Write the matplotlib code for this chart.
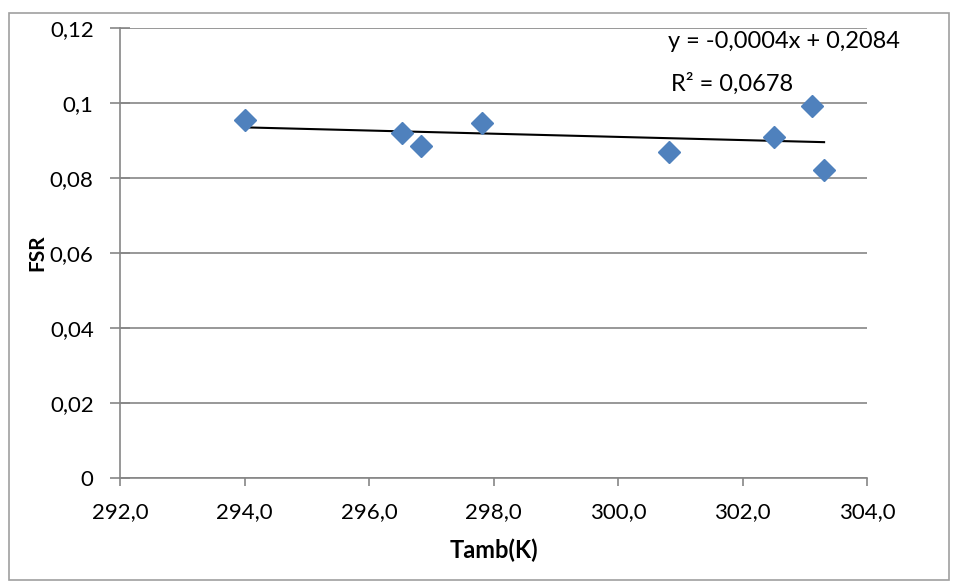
import numpy as np
import matplotlib
from matplotlib import pyplot as plt
from matplotlib.patches import Rectangle

# Data
tamb = [294.01, 296.53, 296.84, 297.82, 300.82, 302.51, 303.12, 303.31]
fsr = [0.0955, 0.0920, 0.0885, 0.0947, 0.0869, 0.0909, 0.0992, 0.0821]
x_ticks = [292, 294, 296, 298, 300, 302, 304]
y_ticks = [0, 0.02, 0.04, 0.06, 0.08, 0.10, 0.12]
y_tick_labels = ["0", "0,02", "0,04", "0,06", "0,08", "0,1", "0,12"]
eq_text = "y = -0,0004x + 0,2084"
r2_text = "R² = 0,0678"

matplotlib.rc("font", family=["Lato", "DejaVu Sans"], size=16)

fig = plt.figure(figsize=(9.55, 5.83), dpi=100)
ax = fig.add_axes([0.1257, 0.1801, 0.7822, 0.7719])

# outer chart border
fig.patches.append(Rectangle((0.009, 0.005), 0.985, 0.973, transform=fig.transFigure,
                             fill=False, edgecolor="#a0a0a0", linewidth=1.2))

gray = "#868686"
ax.set_xlim(292, 304)
ax.set_ylim(0, 0.12)
ax.set_xticks(x_ticks)
ax.set_xticklabels([f"{t:.1f}".replace(".", ",") for t in x_ticks])
ax.set_yticks(y_ticks)
ax.set_yticklabels(y_tick_labels)
ax.grid(axis="y", color=gray, linewidth=1.2)
ax.set_axisbelow(True)
for s in ["top", "right"]:
    ax.spines[s].set_visible(False)
for s in ["left", "bottom"]:
    ax.spines[s].set_color(gray)
    ax.spines[s].set_linewidth(1.2)
ax.tick_params(axis="y", direction="inout", length=14, color=gray, width=1.2, pad=12)
ax.tick_params(axis="x", direction="out", length=6, color=gray, width=1.2, pad=11)

ax.plot(tamb, fsr, linestyle="none", marker="D", markersize=11,
        color="#4F81BD", markeredgecolor="#4F81BD", zorder=3)

# linear trendline
coef = np.polyfit(tamb, fsr, 1)
xs = np.array([min(tamb), max(tamb)])
ax.plot(xs, np.polyval(coef, xs), color="black", linewidth=1.5, zorder=2)

ax.text(0.7336, 0.971, eq_text, transform=ax.transAxes, ha="left", va="center", fontsize=17)
ax.text(0.7376, 0.876, r2_text, transform=ax.transAxes, ha="left", va="center", fontsize=17)

ax.set_xlabel("Tamb(K)", fontweight="bold", fontsize=17, labelpad=12)
ax.set_ylabel("FSR", fontweight="bold", fontsize=15, labelpad=2)

plt.savefig("out.png", dpi=100)
